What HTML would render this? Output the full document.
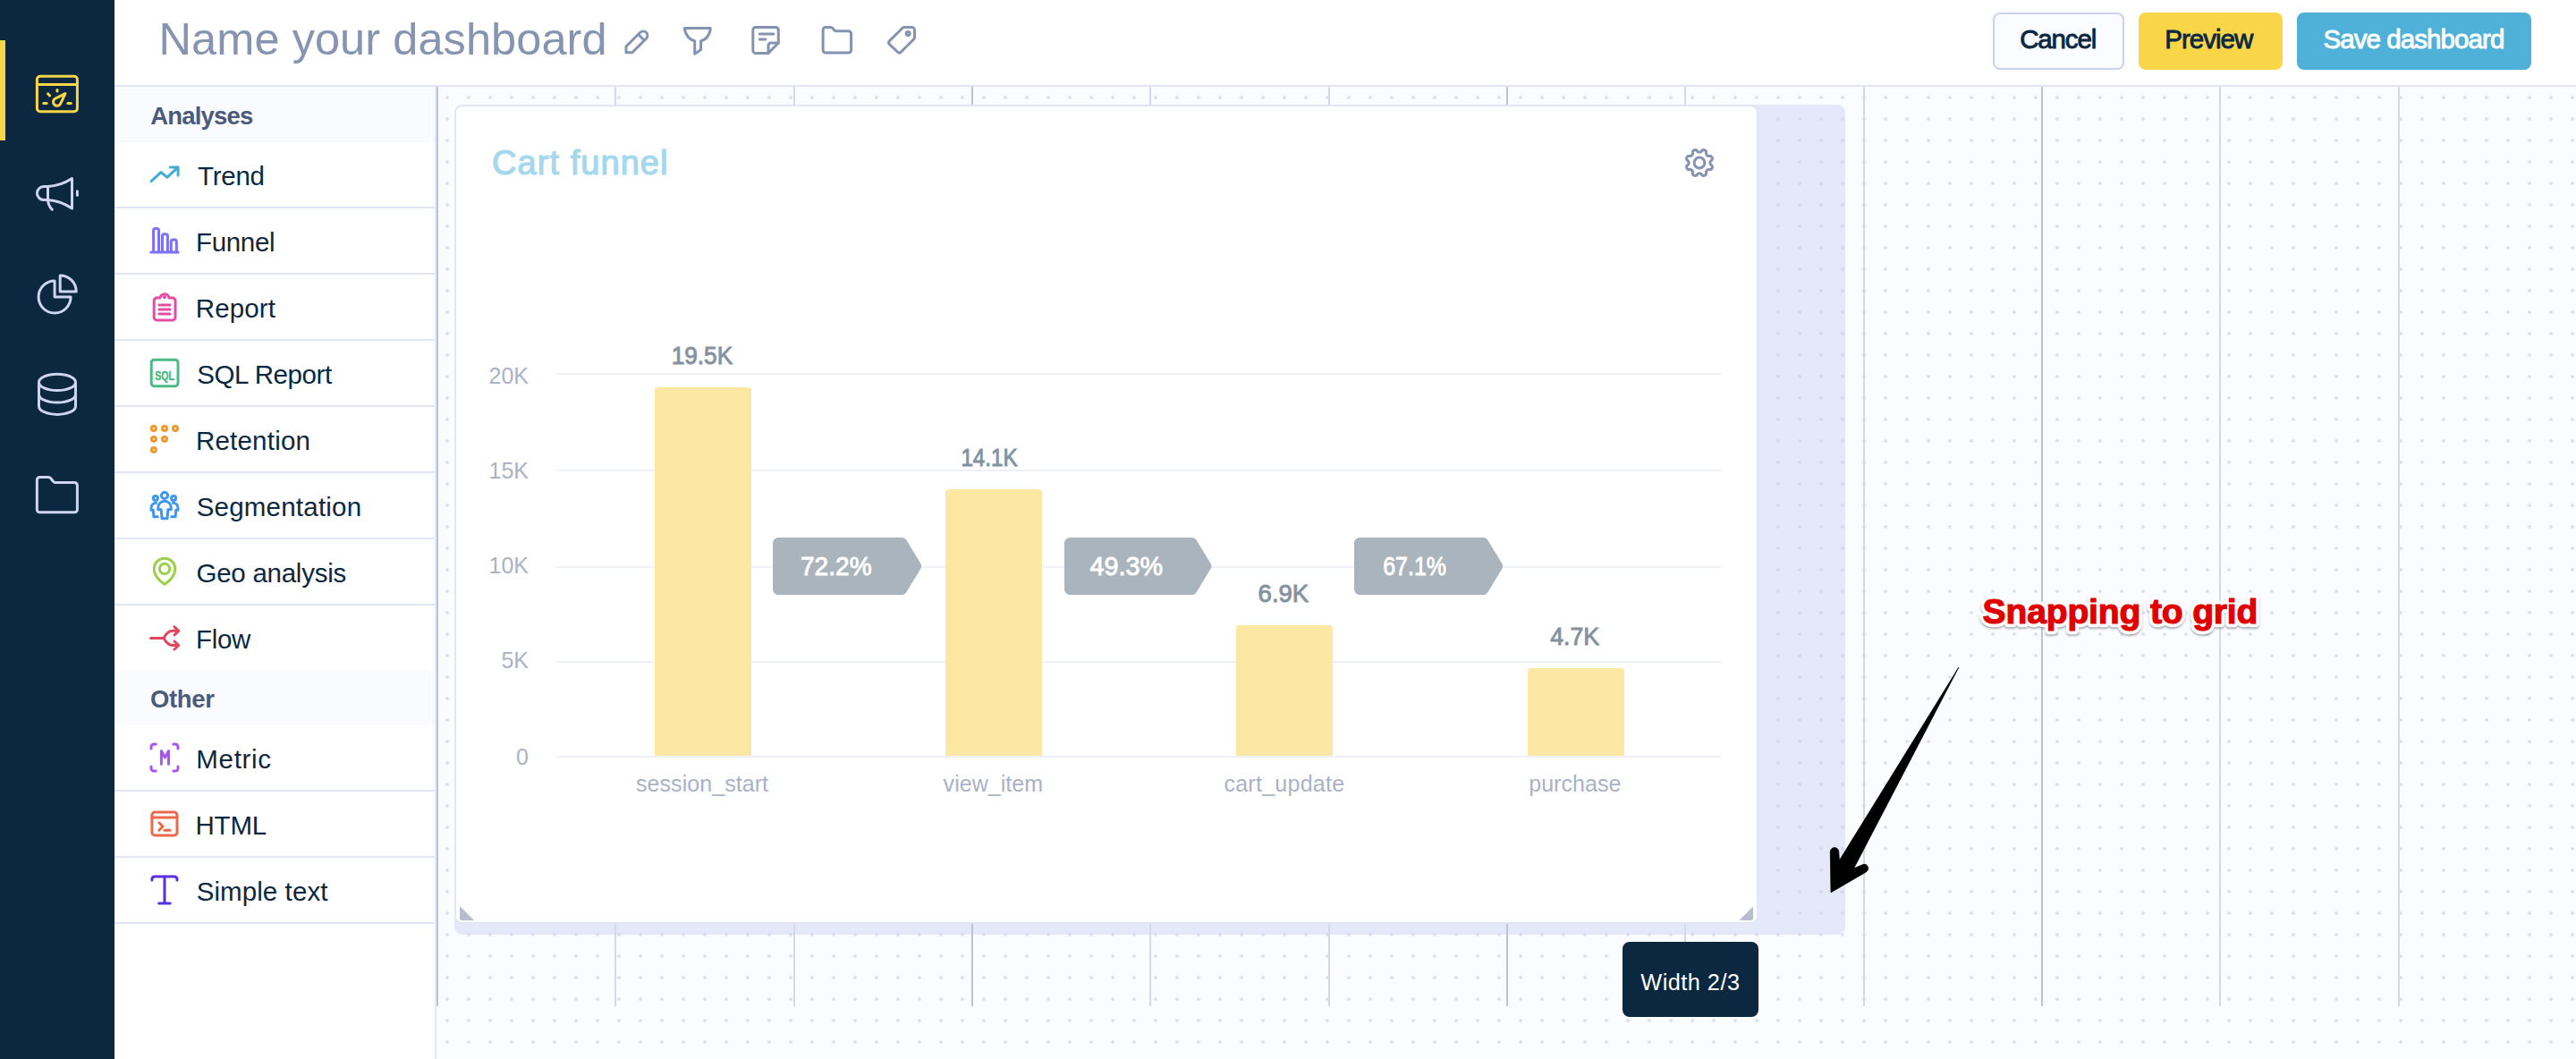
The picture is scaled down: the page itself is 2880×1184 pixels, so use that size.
<!DOCTYPE html>
<html lang="en">
<head>
<meta charset="utf-8">
<title>Name your dashboard</title>
<style>
*{box-sizing:border-box;margin:0;padding:0}
html,body{width:2880px;height:1184px;overflow:hidden;background:#fff}
body{position:relative;font-family:"Liberation Sans",sans-serif;color:#0c2841}
.t{position:absolute;white-space:nowrap;line-height:1;color:#0c2841}
#side{position:absolute;left:0;top:0;width:128px;height:1184px;background:#0c2740}
#side .bar{position:absolute;left:0;top:45px;width:6px;height:112px;background:#f9d648}
#top{position:absolute;left:128px;top:0;width:2752px;height:97px;background:#fff;border-bottom:2px solid #e1e7f7}
.btn{position:absolute;top:14px;height:64px;border-radius:8px}
#b1{left:2228px;width:147px;background:#fbfcff;border:2px solid #c9d2ee}
#b2{left:2391px;width:161px;background:#f9d648}
#b3{left:2568px;width:262px;background:#4fb0d8}
#panel{position:absolute;left:128px;top:97px;width:360px;height:1087px;background:#fff;border-right:2px solid #e3e9f8}
.sec{position:absolute;left:0;width:358px;height:62px;background:#fafbfe}
.row{position:absolute;left:0;width:358px;height:74px;border-bottom:2px solid #e1e7f7}
#canvas{position:absolute;left:488px;top:97px;width:2392px;height:1087px;background-color:#fbfcff;background-image:radial-gradient(circle at 12px 12px,#dde4f5 0,#dde4f5 1.6px,rgba(221,228,245,0) 2.4px);background-size:24px 24px}
.gl{position:absolute;top:97px;width:2px;height:1028px;background:#d5d9e7}
#ph{position:absolute;left:508px;top:117px;width:1555px;height:928px;border-radius:9px;background-color:#e3e9f8;background-image:radial-gradient(circle at 12px 12px,#d3dbf0 0,#d3dbf0 1.6px,rgba(211,219,240,0) 2.4px);background-size:24px 24px;background-position:4px 4px}
#card{position:absolute;left:508px;top:117px;width:1458px;height:916px;border-radius:9px;background:#fff;border:2px solid #e1e7f8}
#tip{position:absolute;left:1814px;top:1053px;width:152px;height:84px;border-radius:8px;background:#0c2740}
svg{position:absolute;left:0;top:0;overflow:visible}
</style>
</head>
<body>
<div id="side"><div class="bar"></div></div>
<div id="top"></div>
<div class="t" id="title" style="left:177.55px;top:19.05px;font-size:50.5px;letter-spacing:0.072px;color:#8594b1">Name your dashboard</div>
<div class="btn" id="b1"></div>
<div class="btn" id="b2"></div>
<div class="btn" id="b3"></div>
<div class="t" id="c1" style="left:2258.20px;top:29.23px;font-size:29.5px;letter-spacing:-1.160px;-webkit-text-stroke:0.9px">Cancel</div>
<div class="t" id="c2" style="left:2420.20px;top:29.23px;font-size:29.5px;letter-spacing:-0.967px;-webkit-text-stroke:0.9px">Preview</div>
<div class="t" id="c3" style="left:2597.45px;top:29.23px;font-size:29.5px;letter-spacing:-0.915px;color:#fff;-webkit-text-stroke:0.9px">Save dashboard</div>

<div id="panel">
<div class="sec" style="top:0"></div>
<div class="row" style="top:62px"></div><div class="row" style="top:136px"></div><div class="row" style="top:210px"></div><div class="row" style="top:284px"></div><div class="row" style="top:358px"></div><div class="row" style="top:432px"></div><div class="row" style="top:506px"></div><div class="row" style="top:580px"></div><div class="row" style="top:714px"></div><div class="row" style="top:788px"></div><div class="row" style="top:862px"></div>
<div class="sec" style="top:652px"></div>
</div>
<div class="t" id="s1" style="left:168.35px;top:115.72px;font-size:27.5px;letter-spacing:-0.843px;color:#4c5a7a;font-weight:700">Analyses</div><div class="t" id="r1" style="left:221.00px;top:181.83px;font-size:29.5px;letter-spacing:-0.250px;">Trend</div><div class="t" id="r2" style="left:219.10px;top:255.83px;font-size:29.5px;letter-spacing:-0.360px;">Funnel</div><div class="t" id="r3" style="left:218.80px;top:329.83px;font-size:29.5px;letter-spacing:0.120px;">Report</div><div class="t" id="r4" style="left:220.15px;top:403.83px;font-size:29.5px;letter-spacing:-0.411px;">SQL Report</div><div class="t" id="r5" style="left:218.90px;top:477.83px;font-size:29.5px;letter-spacing:0.225px;">Retention</div><div class="t" id="r6" style="left:219.70px;top:551.83px;font-size:29.5px;letter-spacing:0.218px;">Segmentation</div><div class="t" id="r7" style="left:219.55px;top:625.83px;font-size:29.5px;letter-spacing:-0.264px;">Geo analysis</div><div class="t" id="r8" style="left:219.00px;top:699.83px;font-size:29.5px;letter-spacing:-0.333px;">Flow</div><div class="t" id="s2" style="left:168.10px;top:767.92px;font-size:27.5px;letter-spacing:-0.400px;color:#4c5a7a;font-weight:700">Other</div><div class="t" id="r9" style="left:219.25px;top:833.83px;font-size:29.5px;letter-spacing:0.700px;">Metric</div><div class="t" id="r10" style="left:218.50px;top:907.83px;font-size:29.5px;letter-spacing:-0.200px;">HTML</div><div class="t" id="r11" style="left:219.70px;top:981.83px;font-size:29.5px;letter-spacing:0.080px;">Simple text</div>

<div id="canvas"></div>
<div id="ph"></div>
<div class="gl" style="left:488px;background:#bcc4d3"></div><div class="gl" style="left:687px"></div><div class="gl" style="left:887px"></div><div class="gl" style="left:1086px;background:#bcc4d3"></div><div class="gl" style="left:1285px"></div><div class="gl" style="left:1485px"></div><div class="gl" style="left:1684px;background:#bcc4d3"></div><div class="gl" style="left:1883px"></div><div class="gl" style="left:2083px"></div><div class="gl" style="left:2282px;background:#bcc4d3"></div><div class="gl" style="left:2481px"></div><div class="gl" style="left:2681px"></div>
<div id="card"></div>
<div id="tip"></div>
<div class="t" id="tp" style="left:1834.30px;top:1085.68px;font-size:25.3px;letter-spacing:0.475px;color:#fff">Width 2/3</div>

<svg width="2880" height="1184" viewBox="0 0 2880 1184" fill="none" stroke-linecap="round" stroke-linejoin="round">
<!-- sidebar icons -->
<g stroke="#f9d648" stroke-width="3">
<rect x="41.4" y="85.2" width="45" height="39.6" rx="3.5"/>
<path d="M42.9 94.5H84.9"/>
<path d="M64 100.6V101.9M53.6 104.9L55.6 107M48.7 115.6H52.2M75.8 115.6H79.3"/>
<path d="M73 104.6L61.88 110.15A4.3 4.3 0 1 0 67.69 115.84Z"/>
</g>
<g stroke="#cdd5ef" stroke-width="3">
<!-- megaphone -->
<path d="M53.5 208.5H49A7.55 7.55 0 0 0 49 223.6H53.5"/>
<path d="M53.5 208.5C63 208 72 205 80.5 199.5V233C72 227.5 63 224.2 53.5 223.6Z"/>
<path d="M53.5 223.6C53.8 228 55.5 231.5 58.3 234.3"/>
<path d="M86.4 213.8V218.3"/>
<!-- pie -->
<path d="M61.1 314A18 18 0 1 0 79.1 332H61.1Z"/>
<path d="M67.2 307.9A18 18 0 0 1 85.2 325.9H67.2Z"/>
<!-- db -->
<ellipse cx="64" cy="427.4" rx="20.5" ry="9.1"/>
<path d="M43.5 427.4V454.3A20.5 9.1 0 0 0 84.5 454.3V427.4"/>
<path d="M43.5 441A20.5 9.1 0 0 0 84.5 441"/>
<!-- folder -->
<path d="M44.35 533.4H54.2Q55.6 533.4 56.5 534.5L59.5 538.3Q60.4 539.4 61.8 539.4H83.4A3 3 0 0 1 86.4 542.4V569.7A3 3 0 0 1 83.4 572.7H44.35A3 3 0 0 1 41.35 569.7V536.4A3 3 0 0 1 44.35 533.4Z"/>
</g>
<!-- header icons -->
<g stroke="#8493b1" stroke-width="3">
<g transform="translate(700 58.8) rotate(-45)"><path d="M0 0L4.8 -4.8H27A4.8 4.8 0 0 1 27 4.8H4.8ZM24 -4.8V4.8"/></g>
<path d="M765.3 31.4H794.3C794 39 789 44.5 783.6 45.7V55.5L776.7 60.2V45.7C771 44.5 766 39 765.3 31.4Z"/>
<path d="M844.8 30.5H867.3A3 3 0 0 1 870.3 33.5V48L859 59.4H844.8A3 3 0 0 1 841.8 56.4V33.5A3 3 0 0 1 844.8 30.5Z"/>
<path d="M870.3 48H862A3 3 0 0 0 859 51V59.4M849.3 38.1H864.8M849.3 43.9H855.9"/>
<path d="M923.1 30.5H928.6Q930 30.5 930.9 31.6L932.7 33.7Q933.6 34.8 935 34.8H948.6A3 3 0 0 1 951.6 37.8V56A3 3 0 0 1 948.6 59H923.1A3 3 0 0 1 920.1 56V33.5A3 3 0 0 1 923.1 30.5Z"/>
<path d="M1011.5 30.6H1019.5A3 3 0 0 1 1022.5 33.6V41.5Q1022.5 43 1021.4 44.1L1007.2 58.3Q1005.4 60.1 1003.6 58.3L994.3 49.3Q992.6 47.6 994.3 45.9L1008.6 31.7Q1009.8 30.6 1011.5 30.6Z"/>
<circle cx="1015.2" cy="37.6" r="2"/>
</g>
</svg>
<svg width="2880" height="1184" viewBox="0 0 2880 1184" fill="none" stroke-linecap="round" stroke-linejoin="round" stroke-width="3">
<!-- trend -->
<path stroke="#45add4" d="M169.1 202.7L179.9 192.6L187 198.2L199.1 186.9M190.2 186.9H199.1V196"/>
<!-- funnel -->
<path stroke="#7c70f4" d="M168.7 282H199.2M171.6 282V257.6A2 2 0 0 1 173.6 255.6H175.5A2 2 0 0 1 177.5 257.6V282M181.5 282V263.7A2 2 0 0 1 183.5 261.7H185.4A2 2 0 0 1 187.4 263.7V282M191.3 282V270.1A2 2 0 0 1 193.3 268.1H195.3A2 2 0 0 1 197.3 270.1V282"/>
<!-- report -->
<g stroke="#e54ca2"><path d="M179 333.1H175.2A3 3 0 0 0 172.2 336.1V354.9A3 3 0 0 0 175.2 357.9H193A3 3 0 0 0 196 354.9V336.1A3 3 0 0 0 193 333.1H189A5.05 5.05 0 0 0 179 333.1M177.9 341H190M177.9 346H190M177.9 350.9H190"/><circle cx="184" cy="332.2" r="1" fill="#e54ca2" stroke-width="2"/></g>
<!-- sql -->
<g stroke="#4bbb85"><rect x="169.2" y="402.2" width="29.8" height="29.5" rx="3.2"/></g>
<text x="173.2" y="425.3" font-family="Liberation Sans, sans-serif" font-weight="700" font-size="15" fill="#4bbb85" stroke="#4bbb85" stroke-width="0.5" textLength="21.8" lengthAdjust="spacingAndGlyphs">SQL</text>
<!-- retention -->
<g stroke="#f09a2e"><rect x="169.4" y="476.5" width="5" height="5" rx="2.3"/><rect x="181.5" y="476.5" width="5" height="5" rx="2.3"/><rect x="193.5" y="476.5" width="5" height="5" rx="2.3"/><rect x="169.4" y="488.4" width="5" height="5" rx="2.3"/><rect x="181.5" y="488.4" width="5" height="5" rx="2.3"/><rect x="169.4" y="500.4" width="5" height="5" rx="2.3"/></g>
<!-- segmentation -->
<g stroke="#3d97f0"><circle cx="184" cy="554" r="3.6"/><path d="M176.8 569.7V567.4A7.2 7.2 0 0 1 191.2 567.4V569.7H187.8L187 579.7H181L180.2 569.7Z"/><circle cx="173.9" cy="557" r="2.5"/><path d="M174.5 562.3C171 562.5 169 565 169 568V570.2H171.2L171.9 577.8H176.3"/><circle cx="194.1" cy="557" r="2.5"/><path d="M193.5 562.3C197 562.5 199 565 199 568V570.2H196.8L196.1 577.8H191.7"/></g>
<!-- geo -->
<g stroke="#9ad148"><path d="M184 653.3C176 648 172.2 642 172.2 636A11.8 11.8 0 0 1 195.8 636C195.8 642 192 648 184 653.3Z"/><circle cx="184" cy="636" r="5.7"/></g>
<!-- flow -->
<path stroke="#e0475f" d="M168.5 713.4H183M183 713.4C186 708 189 705.3 193 705.3H199.5M195 700.8L199.8 705.3L195 709.8M183 713.4C186 718.8 189 721.5 193 721.5H199.5M195 717L199.8 721.5L195 726"/>
<!-- metric -->
<path stroke="#a955f2" d="M169 837V835A3 3 0 0 1 172 832H174.2M193.8 832H196A3 3 0 0 1 199 835V837M169 857V859A3 3 0 0 0 172 862H174.2M199 857V859A3 3 0 0 1 196 862H193.8M180.4 854.3V839.5L184.5 847L188.5 839.5V854.3"/>
<!-- html -->
<g stroke="#ec6a4b"><rect x="169.9" y="908" width="28.1" height="26" rx="3.2"/><path d="M169.9 914.1H198M177.9 919.8L182 924L177.9 928.1M183.8 928.2H190.2"/></g>
<!-- simple text -->
<path stroke="#5a2fe0" d="M169.9 983.9V983A3 3 0 0 1 172.9 980H195A3 3 0 0 1 198 983V983.9M184 980V1010M177.7 1010H190.2"/>
</svg>
<svg width="2880" height="1184" viewBox="0 0 2880 1184" font-family="Liberation Sans, sans-serif">
<text x="550" y="195.2" font-size="38" stroke="#a4d8ec" stroke-width="1.2" fill="#a4d8ec" textLength="196.5" lengthAdjust="spacing">Cart funnel</text>
<g fill="none" stroke="#8493b1" stroke-width="3" stroke-linejoin="round"><path d="M1911.85 182.00L1911.89 182.47L1912.02 182.95L1912.24 183.45L1912.58 183.99L1913.34 184.65L1914.07 185.38L1914.31 186.04L1914.40 186.68L1914.35 187.29L1914.18 187.87L1913.89 188.40L1913.49 188.87L1912.98 189.27L1912.33 189.56L1911.31 189.56L1910.30 189.49L1909.68 189.63L1909.17 189.83L1908.74 190.08L1908.38 190.38L1908.08 190.74L1907.83 191.17L1907.63 191.68L1907.49 192.30L1907.56 193.31L1907.56 194.33L1907.27 194.98L1906.87 195.49L1906.40 195.89L1905.87 196.18L1905.29 196.35L1904.68 196.40L1904.04 196.31L1903.38 196.07L1902.65 195.34L1901.99 194.58L1901.45 194.24L1900.95 194.02L1900.47 193.89L1900.00 193.85L1899.53 193.89L1899.05 194.02L1898.55 194.24L1898.01 194.58L1897.35 195.34L1896.62 196.07L1895.96 196.31L1895.32 196.40L1894.71 196.35L1894.13 196.18L1893.60 195.89L1893.13 195.49L1892.73 194.98L1892.44 194.33L1892.44 193.31L1892.51 192.30L1892.37 191.68L1892.17 191.17L1891.92 190.74L1891.62 190.38L1891.26 190.08L1890.83 189.83L1890.32 189.63L1889.70 189.49L1888.69 189.56L1887.67 189.56L1887.02 189.27L1886.51 188.87L1886.11 188.40L1885.82 187.87L1885.65 187.29L1885.60 186.68L1885.69 186.04L1885.93 185.38L1886.66 184.65L1887.42 183.99L1887.76 183.45L1887.98 182.95L1888.11 182.47L1888.15 182.00L1888.11 181.53L1887.98 181.05L1887.76 180.55L1887.42 180.01L1886.66 179.35L1885.93 178.62L1885.69 177.96L1885.60 177.32L1885.65 176.71L1885.82 176.13L1886.11 175.60L1886.51 175.13L1887.02 174.73L1887.67 174.44L1888.69 174.44L1889.70 174.51L1890.32 174.37L1890.83 174.17L1891.26 173.92L1891.62 173.62L1891.92 173.26L1892.17 172.83L1892.37 172.32L1892.51 171.70L1892.44 170.69L1892.44 169.67L1892.73 169.02L1893.13 168.51L1893.60 168.11L1894.13 167.82L1894.71 167.65L1895.32 167.60L1895.96 167.69L1896.62 167.93L1897.35 168.66L1898.01 169.42L1898.55 169.76L1899.05 169.98L1899.53 170.11L1900.00 170.15L1900.47 170.11L1900.95 169.98L1901.45 169.76L1901.99 169.42L1902.65 168.66L1903.38 167.93L1904.04 167.69L1904.68 167.60L1905.29 167.65L1905.87 167.82L1906.40 168.11L1906.87 168.51L1907.27 169.02L1907.56 169.67L1907.56 170.69L1907.49 171.70L1907.63 172.32L1907.83 172.83L1908.08 173.26L1908.38 173.62L1908.74 173.92L1909.17 174.17L1909.68 174.37L1910.30 174.51L1911.31 174.44L1912.33 174.44L1912.98 174.73L1913.49 175.13L1913.89 175.60L1914.18 176.13L1914.35 176.71L1914.40 177.32L1914.31 177.96L1914.07 178.62L1913.34 179.35L1912.58 180.01L1912.24 180.55L1912.02 181.05L1911.89 181.53Z"/><circle cx="1900" cy="182" r="5.9"/></g>
<rect x="622" y="417" width="1302" height="2" fill="#eef1fc"/>
<rect x="622" y="525" width="1302" height="2" fill="#eef1fc"/>
<rect x="622" y="633" width="1302" height="2" fill="#eef1fc"/>
<rect x="622" y="739" width="1302" height="2" fill="#eef1fc"/>
<rect x="622" y="845" width="1302" height="2" fill="#eef1fc"/>
<text x="591" y="428.9" font-size="25" fill="#aab2c5" text-anchor="end">20K</text>
<text x="591" y="534.9" font-size="25" fill="#aab2c5" text-anchor="end">15K</text>
<text x="591" y="641" font-size="25" fill="#aab2c5" text-anchor="end">10K</text>
<text x="591" y="747" font-size="25" fill="#aab2c5" text-anchor="end">5K</text>
<text x="591" y="854.8" font-size="25" fill="#aab2c5" text-anchor="end">0</text>
<path fill="#fce8a2" d="M732 845V437a4 4 0 0 1 4 -4h100a4 4 0 0 1 4 4V845Z"/>
<text x="750.7" y="407" font-size="27" stroke="#8492a0" stroke-width="0.9" fill="#8492a0" textLength="68.4" lengthAdjust="spacingAndGlyphs">19.5K</text>
<text x="711" y="884.9" font-size="25" fill="#aab2c5" textLength="148" lengthAdjust="spacing">session_start</text>
<path fill="#fce8a2" d="M1057 845V551a4 4 0 0 1 4 -4h100a4 4 0 0 1 4 4V845Z"/>
<text x="1074.4" y="521" font-size="27" stroke="#8492a0" stroke-width="0.9" fill="#8492a0" textLength="63.2" lengthAdjust="spacingAndGlyphs">14.1K</text>
<text x="1054.6" y="884.9" font-size="25" fill="#aab2c5" textLength="111.5" lengthAdjust="spacing">view_item</text>
<path fill="#fce8a2" d="M1382 845V703a4 4 0 0 1 4 -4h100a4 4 0 0 1 4 4V845Z"/>
<text x="1406.6" y="673" font-size="27" stroke="#8492a0" stroke-width="0.9" fill="#8492a0" textLength="56.6" lengthAdjust="spacingAndGlyphs">6.9K</text>
<text x="1368.4" y="884.9" font-size="25" fill="#aab2c5" textLength="134.7" lengthAdjust="spacing">cart_update</text>
<path fill="#fce8a2" d="M1708 845V751a4 4 0 0 1 4 -4h100a4 4 0 0 1 4 4V845Z"/>
<text x="1733.2" y="721" font-size="27" stroke="#8492a0" stroke-width="0.9" fill="#8492a0" textLength="55" lengthAdjust="spacingAndGlyphs">4.7K</text>
<text x="1709.2" y="884.9" font-size="25" fill="#aab2c5" textLength="103.2" lengthAdjust="spacing">purchase</text>
<path fill="#a9b4bc" stroke="#a9b4bc" stroke-width="12.8" stroke-linejoin="round" d="M870.4 607.4H1008.0L1023.6 633L1008.0 658.6H870.4Z"/>
<text x="895" y="643" font-size="30" stroke="#fff" stroke-width="0.9" fill="#fff" textLength="79.6" lengthAdjust="spacingAndGlyphs">72.2%</text>
<path fill="#a9b4bc" stroke="#a9b4bc" stroke-width="12.8" stroke-linejoin="round" d="M1196.4 607.4H1332.3L1347.9 633L1332.3 658.6H1196.4Z"/>
<text x="1218.4" y="643" font-size="30" stroke="#fff" stroke-width="0.9" fill="#fff" textLength="81.6" lengthAdjust="spacingAndGlyphs">49.3%</text>
<path fill="#a9b4bc" stroke="#a9b4bc" stroke-width="12.8" stroke-linejoin="round" d="M1520.4 607.4H1658.0L1673.6 633L1658.0 658.6H1520.4Z"/>
<text x="1546.2" y="643" font-size="30" stroke="#fff" stroke-width="0.9" fill="#fff" textLength="70.8" lengthAdjust="spacingAndGlyphs">67.1%</text>
<path fill="#b7bdd0" d="M514 1013V1027a2 2 0 0 0 2 2H530Z"/>
<path fill="#b7bdd0" d="M1960 1013.5V1027a2 2 0 0 1 -2 2H1944.5Z"/>
</svg>
<svg width="2880" height="1184" viewBox="0 0 2880 1184" font-family="Liberation Sans, sans-serif">
<defs><filter id="sh" x="-5%" y="-30%" width="110%" height="170%"><feGaussianBlur stdDeviation="0.9"/></filter></defs>
<path fill="#000" stroke="#000" stroke-width="0.8" stroke-linejoin="round" d="M2189.8 746.2L2072.5 971L2083.2 966.4A4.6 4.6 0 0 1 2086.3 974.9L2047 997.8L2046.3 952.3A4.7 4.7 0 0 1 2055.7 952.3L2056.4 962.1Z"/>
<g font-size="39" font-weight="700" stroke-linejoin="round">
<text x="2216.6" y="698.6" fill="#6d7077" stroke="#6d7077" stroke-width="8" opacity="0.6" filter="url(#sh)" textLength="307.8" lengthAdjust="spacing">Snapping to grid</text>
<text x="2216.6" y="696.8" fill="#fff" stroke="#fff" stroke-width="8.4" textLength="307.8" lengthAdjust="spacing">Snapping to grid</text>
<text x="2216.6" y="696.8" fill="#e00000" stroke="#e00000" stroke-width="1.2" textLength="307.8" lengthAdjust="spacing">Snapping to grid</text>
</g>
</svg>
</body>
</html>
